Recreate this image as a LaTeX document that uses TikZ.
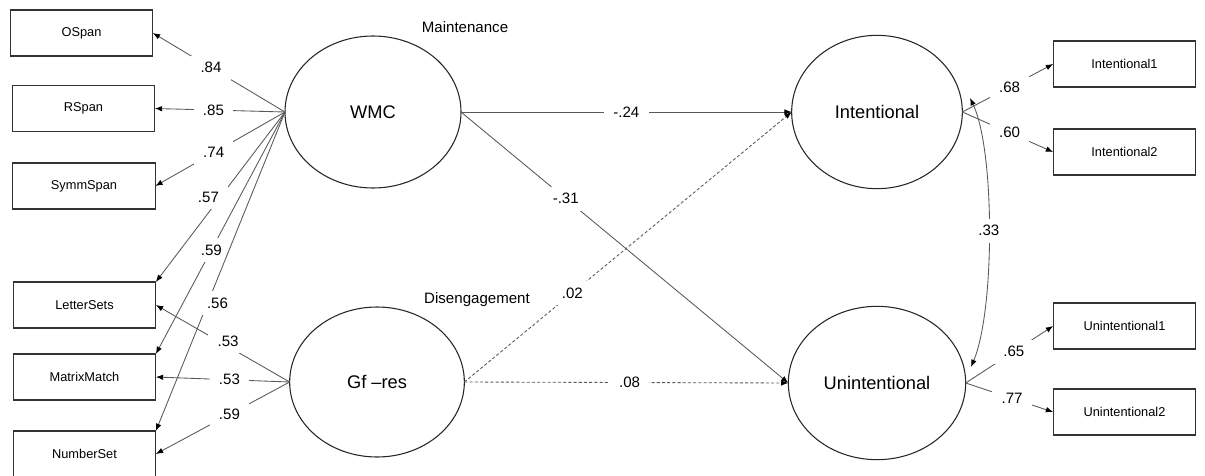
\documentclass[tikz,border=0pt]{standalone}
\usepackage{fontspec}
\setmainfont{Liberation Sans}
\usetikzlibrary{arrows.meta,shapes.geometric}
\begin{document}
\begin{tikzpicture}[x=0.75pt,y=-0.75pt,
  obs/.style={draw=black!80,line width=0.8pt,rectangle,inner sep=0pt,outer sep=0pt,minimum width=107pt,minimum height=34.5pt,font=\fontsize{9.6}{11}\selectfont},
  lat/.style={draw=black!85,line width=0.8pt,ellipse,inner sep=0pt,outer sep=0pt,font=\fontsize{13.7}{16}\selectfont},
  conn/.style={draw=black!65,line width=0.65pt,-{Latex[length=5.5pt,width=4.2pt,fill=black,color=black]}},
  dconn/.style={conn,dash pattern=on 2.3pt off 1.6pt},
  lbl/.style={fill=white,inner xsep=7pt,inner ysep=5pt,font=\fontsize{11.3}{13}\selectfont},
  ttl/.style={font=\fontsize{11.3}{13}\selectfont}]
\useasboundingbox (0,0) rectangle (1205,475);
% observed left
\node[obs] (os) at (81.5,33) {OSpan};
\node[obs] (rs) at (83.5,108.5) {RSpan};
\node[obs] (ss) at (84,186) {SymmSpan};
\node[obs] (ls) at (84.5,305) {LetterSets};
\node[obs] (mm) at (84.5,377) {MatrixMatch};
\node[obs] (ns) at (84.5,454) {NumberSet};
% observed right
\node[obs] (i1) at (1124.5,64) {Intentional1};
\node[obs] (i2) at (1124.5,152) {Intentional2};
\node[obs] (u1) at (1124.5,326) {Unintentional1};
\node[obs] (u2) at (1124.5,412) {Unintentional2};
% latent
\node[lat,minimum width=132pt,minimum height=114pt] (wmc) at (373,112) {WMC};
\node[lat,minimum width=131pt,minimum height=112.5pt] (gf) at (377,382) {Gf \textendash res};
\node[lat,minimum width=128pt,minimum height=115pt] (int) at (877,112) {Intentional};
\node[lat,minimum width=133pt,minimum height=115pt] (unint) at (877,383) {Unintentional};
\node[ttl] (mt) at (465,27) {Maintenance};
\node[ttl] (dg) at (477,300) {Disengagement};
% WMC loadings
\draw[conn] (wmc.west) -- node[lbl,pos=0.56] {.84} (os.east);
\draw[conn] (wmc.west) -- node[lbl,pos=0.55] {.85} (rs.east);
\draw[conn] (wmc.west) -- node[lbl,pos=0.55] {.74} (ss.east);
\draw[conn] (wmc.west) -- node[lbl,pos=0.5,xshift=-9pt] {.57} (ls.north east);
\draw[conn] (wmc.west) -- node[lbl,pos=0.57] {.59} (mm.north east);
\draw[conn] (wmc.west) -- node[lbl,pos=0.6,xshift=7.5pt] {.56} (ns.north east);
% Gf loadings
\draw[conn] (gf.west) -- node[lbl,pos=0.46,yshift=4pt] {.53} (ls.east);
\draw[conn] (gf.west) -- node[lbl,pos=0.45] {.53} (mm.east);
\draw[conn] (gf.west) -- node[lbl,pos=0.45] {.59} (ns.east);
% structural paths
\draw[conn] (wmc.east) -- node[lbl,pos=0.5] {-.24} (int.west);
\draw[conn] (wmc.east) -- node[lbl,pos=0.32] {-.31} (unint.west);
\draw[dconn] (gf.east) -- node[lbl,pos=0.33] {.02} (int.west);
\draw[dconn] (gf.east) -- node[lbl,pos=0.51] {.08} (unint.west);
% right loadings
\draw[conn] (int.east) -- node[lbl,pos=0.52] {.68} (i1.west);
\draw[conn] (int.east) -- node[lbl,pos=0.52] {.60} (i2.west);
\draw[conn] (unint.east) -- node[lbl,pos=0.55] {.65} (u1.west);
\draw[conn] (unint.east) -- node[lbl,pos=0.53] {.77} (u2.west);
% covariance
\coordinate (ca) at (970,98);
\coordinate (cb) at (971,367);
\draw[draw=black!65,line width=0.65pt,{Latex[length=5.5pt,width=4.2pt,fill=black,color=black]}-{Latex[length=5.5pt,width=4.2pt,fill=black,color=black]}] (ca) .. controls (995,150) and (995,310) .. node[lbl] {.33} (cb);
\end{tikzpicture}
\end{document}
